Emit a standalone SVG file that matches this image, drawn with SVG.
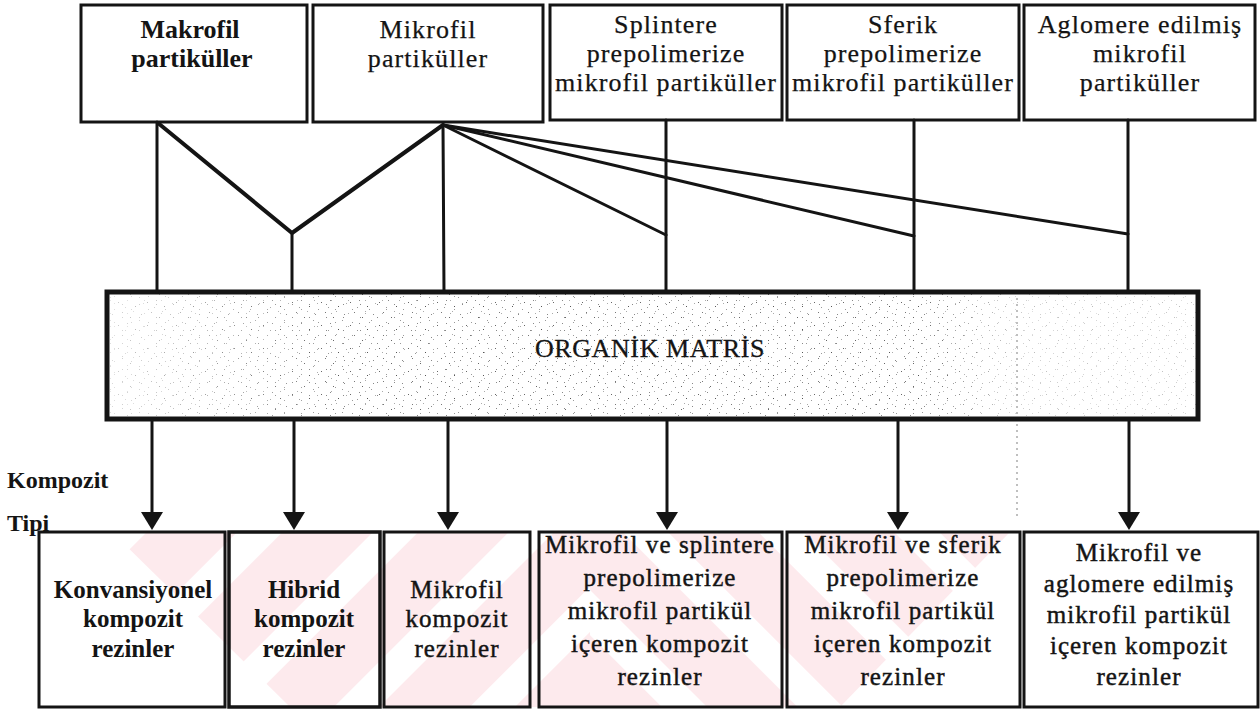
<svg xmlns="http://www.w3.org/2000/svg" width="1260" height="714" viewBox="0 0 1260 714">
<style>
  text { font-family: "Liberation Serif", "Times New Roman", serif; fill: #141414; }
  .t { font-size: 26px; letter-spacing: 1.1px; text-anchor: middle; stroke: #141414; stroke-width: 0.25; }
  .tb { font-size: 26px; font-weight: bold; text-anchor: middle; }
  .b { font-size: 25px; letter-spacing: 1.1px; text-anchor: middle; stroke: #141414; stroke-width: 0.45; }
  .bb { font-size: 25px; font-weight: bold; text-anchor: middle; }
  .lbl { font-size: 24px; font-weight: bold; }
  .box { fill: none; stroke: #141414; stroke-width: 3; }
  .line { fill: none; stroke: #141414; stroke-width: 3; stroke-linecap: round; stroke-linejoin: round; }
  .shaft { fill: none; stroke: #141414; stroke-width: 3; }
  .head { fill: #141414; }
</style>
<defs>
  <pattern id="speck" width="29" height="23" patternUnits="userSpaceOnUse">
    <rect x="2" y="3" width="1" height="1" fill="#666"/>
    <rect x="11" y="1" width="1" height="1" fill="#888"/>
    <rect x="19" y="7" width="1" height="1" fill="#555"/>
    <rect x="25" y="15" width="1" height="1" fill="#888"/>
    <rect x="6" y="13" width="1" height="1" fill="#777"/>
    <rect x="14" y="18" width="1" height="1" fill="#666"/>
    <rect x="23" y="21" width="1" height="1" fill="#999"/>
    <rect x="9" y="8" width="1" height="1" fill="#999"/>
    <rect x="17" y="12" width="1" height="1" fill="#aaa"/>
    <rect x="27" y="4" width="1" height="1" fill="#aaa"/>
  </pattern>
  <pattern id="speck2" width="17" height="13" patternUnits="userSpaceOnUse">
    <rect x="3" y="5" width="1" height="1" fill="#888"/>
    <rect x="12" y="10" width="1" height="1" fill="#999"/>
    <rect x="8" y="1" width="1" height="1" fill="#aaa"/>
  </pattern>
  <linearGradient id="fade" x1="0" y1="0" x2="1" y2="0">
    <stop offset="0" stop-color="#fff" stop-opacity="0.7"/>
    <stop offset="0.2" stop-color="#fff" stop-opacity="0"/>
    <stop offset="0.75" stop-color="#fff" stop-opacity="0"/>
    <stop offset="0.83" stop-color="#fff" stop-opacity="0.6"/>
    <stop offset="1" stop-color="#fff" stop-opacity="0.6"/>
  </linearGradient>
  <pattern id="stripeL" width="96" height="96" patternUnits="userSpaceOnUse" patternTransform="rotate(45)">
    <rect x="0" y="0" width="64" height="96" fill="#fdeaed"/>
  </pattern>
  <pattern id="stripeR" width="96" height="96" patternUnits="userSpaceOnUse" patternTransform="rotate(-45)">
    <rect x="0" y="0" width="64" height="96" fill="#fdeaed"/>
  </pattern>
</defs>
<rect width="1260" height="714" fill="#ffffff"/>

<!-- watermark -->
<g id="watermark">
  <polygon points="112,532 590,532 590,707 290,707" fill="url(#stripeL)"/>
  <polygon points="590,532 1010,532 840,707 590,707" fill="url(#stripeR)"/>
</g>

<!-- top nodes -->
<g id="n-makrofil">
  <rect class="box" x="81" y="5" width="226" height="117"/>
  <text class="tb" x="190" y="38">Makrofil</text>
  <text class="tb" x="192" y="67">partiküller</text>
</g>
<g id="n-mikrofil">
  <rect class="box" x="313" y="5" width="230" height="117"/>
  <text class="t" x="428" y="38">Mikrofil</text>
  <text class="t" x="428" y="67">partiküller</text>
</g>
<g id="n-splintere">
  <rect class="box" x="550" y="5" width="232" height="115"/>
  <text class="t" x="666" y="33">Splintere</text>
  <text class="t" x="666" y="62">prepolimerize</text>
  <text class="t" x="666" y="91">mikrofil partiküller</text>
</g>
<g id="n-sferik">
  <rect class="box" x="787" y="5" width="232" height="115"/>
  <text class="t" x="903" y="33">Sferik</text>
  <text class="t" x="903" y="62">prepolimerize</text>
  <text class="t" x="903" y="91">mikrofil partiküller</text>
</g>
<g id="n-aglomere">
  <rect class="box" x="1024" y="5" width="231" height="115"/>
  <text class="t" x="1140" y="33">Aglomere edilmiş</text>
  <text class="t" x="1140" y="62">mikrofil</text>
  <text class="t" x="1140" y="91">partiküller</text>
</g>

<!-- matrix -->
<g id="n-matrix">
  <rect x="107" y="292" width="1091" height="127" fill="url(#speck)"/>
  <rect x="107" y="292" width="1091" height="127" fill="url(#speck2)"/>
  <rect x="107" y="292" width="1091" height="127" fill="url(#fade)"/>
  <line x1="1017" y1="292" x2="1017" y2="520" stroke="#aaa" stroke-width="1.5" stroke-dasharray="2 4"/>
  <rect x="107" y="292" width="1091" height="127" fill="none" stroke="#141414" stroke-width="5"/>
  <text x="650" y="357" style="font-size:26px;letter-spacing:0.6px;text-anchor:middle;stroke:#141414;stroke-width:0.3">ORGANİK  MATRİS</text>
</g>

<!-- connectors -->
<g id="connectors">
  <path class="line" d="M157,122 L157,292"/>
  <path class="line" d="M158,123 L292,233 L443,125" style="stroke-width:4"/>
  <path class="line" d="M292,233 L292,292"/>
  <path class="line" d="M443,125 L444,292"/>
  <path class="line" d="M443,125 L666,235"/>
  <path class="line" d="M443,125 L914,236"/>
  <path class="line" d="M443,125 L1128,234"/>
  <path class="line" d="M666,120 L666,292"/>
  <path class="line" d="M914,120 L914,292"/>
  <path class="line" d="M1128,120 L1128,292"/>
  <line class="shaft" x1="152" y1="419" x2="152" y2="515"/>
  <polygon class="head" points="141,512 163,512 152,530"/>
  <line class="shaft" x1="294" y1="419" x2="294" y2="515"/>
  <polygon class="head" points="283,512 305,512 294,530"/>
  <line class="shaft" x1="448" y1="419" x2="448" y2="515"/>
  <polygon class="head" points="437,512 459,512 448,530"/>
  <line class="shaft" x1="667" y1="419" x2="667" y2="515"/>
  <polygon class="head" points="656,512 678,512 667,530"/>
  <line class="shaft" x1="898" y1="419" x2="898" y2="515"/>
  <polygon class="head" points="887,512 909,512 898,530"/>
  <line class="shaft" x1="1129" y1="419" x2="1129" y2="515"/>
  <polygon class="head" points="1118,512 1140,512 1129,530"/>
</g>

<!-- labels -->
<g id="label-tip">
  <text class="lbl" x="7" y="488">Kompozit</text>
  <text class="lbl" x="7" y="531">Tipi</text>
</g>

<!-- bottom nodes -->
<g id="n-konv">
  <rect class="box" x="39" y="532" width="186" height="175"/>
  <text class="bb" x="133" y="598">Konvansiyonel</text>
  <text class="bb" x="133" y="627">kompozit</text>
  <text class="bb" x="133" y="657">rezinler</text>
</g>
<g id="n-hibrid">
  <rect class="box" x="229" y="532" width="151" height="175" style="stroke-width:3.5"/>
  <text class="bb" x="304" y="598">Hibrid</text>
  <text class="bb" x="304" y="627">kompozit</text>
  <text class="bb" x="304" y="657">rezinler</text>
</g>
<g id="n-mikro">
  <rect class="box" x="384" y="532" width="146" height="175"/>
  <text class="b" x="457" y="598">Mikrofil</text>
  <text class="b" x="457" y="627">kompozit</text>
  <text class="b" x="457" y="657">rezinler</text>
</g>
<g id="n-splint">
  <rect class="box" x="539" y="532" width="243" height="175"/>
  <text class="b" x="660" y="553">Mikrofil ve splintere</text>
  <text class="b" x="660" y="586">prepolimerize</text>
  <text class="b" x="660" y="619">mikrofil partikül</text>
  <text class="b" x="660" y="652">içeren kompozit</text>
  <text class="b" x="660" y="685">rezinler</text>
</g>
<g id="n-sfer">
  <rect class="box" x="787" y="532" width="233" height="175"/>
  <text class="b" x="903" y="553">Mikrofil ve sferik</text>
  <text class="b" x="903" y="586">prepolimerize</text>
  <text class="b" x="903" y="619">mikrofil partikül</text>
  <text class="b" x="903" y="652">içeren kompozit</text>
  <text class="b" x="903" y="685">rezinler</text>
</g>
<g id="n-aglo">
  <rect class="box" x="1024" y="532" width="234" height="175"/>
  <text class="b" x="1139" y="561">Mikrofil ve</text>
  <text class="b" x="1139" y="592">aglomere edilmiş</text>
  <text class="b" x="1139" y="623">mikrofil partikül</text>
  <text class="b" x="1139" y="654">içeren kompozit</text>
  <text class="b" x="1139" y="685">rezinler</text>
</g>
</svg>
